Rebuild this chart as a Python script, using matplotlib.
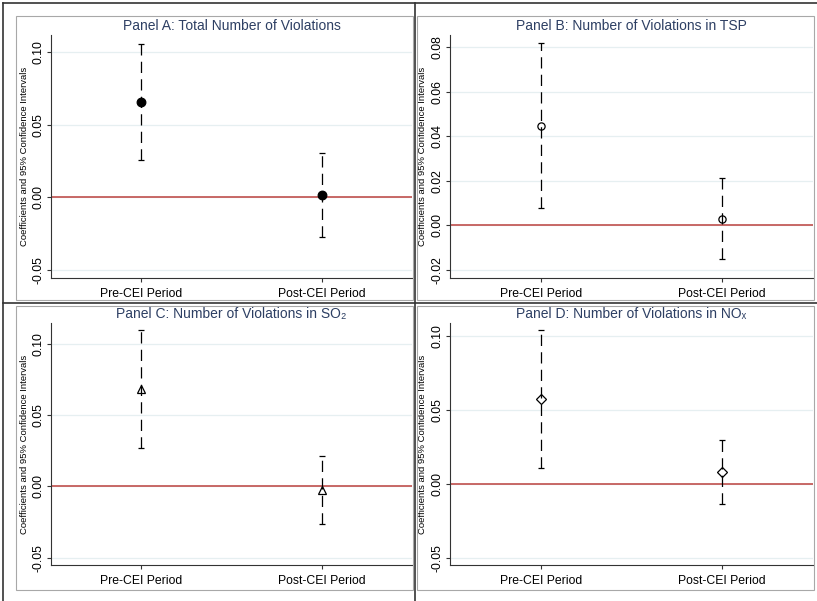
import matplotlib
matplotlib.use("Agg")
import matplotlib.pyplot as plt
from matplotlib.lines import Line2D
from matplotlib.patches import Rectangle
import numpy as np

plt.rcParams['font.family'] = ['Liberation Sans', 'DejaVu Sans']

# estimates
periods = ["Pre-CEI Period", "Post-CEI Period"]

coef_a = [0.066, 0.002]
lo_a = [0.026, -0.027]
hi_a = [0.106, 0.031]

coef_b = [0.0446, 0.003]
lo_b = [0.0078, -0.015]
hi_b = [0.0816, 0.0212]

coef_c = [0.0685, -0.0024]
lo_c = [0.0269, -0.0263]
hi_c = [0.1096, 0.021]

coef_d = [0.0572, 0.0079]
lo_d = [0.0106, -0.0137]
hi_d = [0.1037, 0.0297]

titles = ["Panel A: Total Number of Violations",
          "Panel B: Number of Violations in TSP",
          "Panel C: Number of Violations in SO\u2082",
          "Panel D: Number of Violations in NO\u2093"]

W, H = 817, 601
fig = plt.figure(figsize=(W / 100, H / 100), dpi=100)
fig.patch.set_facecolor('white')


def px_rect(l, t, r, b):
    return [l / W, 1 - b / H, (r - l) / W, (b - t) / H]


def fig_line(x0, y0, x1, y1, color='#333333', lw=1.2):
    fig.add_artist(Line2D([x0 / W, x1 / W], [1 - y0 / H, 1 - y1 / H],
                          transform=fig.transFigure, color=color, lw=lw))


# grey panel boxes
for (l, t, r, b) in [(16, 16, 413, 300), (417, 16, 814, 300),
                     (16, 306, 413, 590), (417, 306, 814, 590)]:
    fig.add_artist(Rectangle((l / W, 1 - b / H), (r - l) / W, (b - t) / H,
                             transform=fig.transFigure, fill=False,
                             edgecolor='#a8a8a8', lw=0.8))

# dark table lines
fig_line(3, 3, 817, 3)
fig_line(3, 3, 3, 601)
fig_line(3, 303, 817, 303)
fig_line(415, 3, 415, 601)

panels = [
    (coef_a, lo_a, hi_a, 'o', 'black', 6.2, (-0.0555, 0.112), [-0.05, 0.0, 0.05, 0.10], (51, 35, 412, 278)),
    (coef_b, lo_b, hi_b, 'o', 'none', 5.2, (-0.0236, 0.0854), [-0.02, 0.0, 0.02, 0.04, 0.06, 0.08], (450, 35, 813, 278)),
    (coef_c, lo_c, hi_c, '^', 'none', 5.5, (-0.0552, 0.1145), [-0.05, 0.0, 0.05, 0.10], (51, 323, 412, 565)),
    (coef_d, lo_d, hi_d, 'D', 'none', 5.5, (-0.055, 0.1086), [-0.05, 0.0, 0.05, 0.10], (450, 323, 813, 565)),
]

x = np.array([1, 2])
for i, (coef, lo, hi, mk, mfc, ms, ylim, yticks, rect) in enumerate(panels):
    ax = fig.add_axes(px_rect(*rect))
    coef = np.array(coef)
    lo = np.array(lo)
    hi = np.array(hi)
    for yt in yticks:
        ax.axhline(yt, color='#e6eff1', lw=0.9, zorder=0)
    ax.axhline(0, color='#c0504d', lw=1.2, zorder=1)
    eb = ax.errorbar(x, coef, yerr=[coef - lo, hi - coef], fmt='none',
                     ecolor='black', elinewidth=0.9, capsize=2.5,
                     capthick=0.9, zorder=2)
    eb[2][0].set_linestyle((0, (9, 5)))
    ax.plot(x, coef, linestyle='none', marker=mk, ms=ms, mfc=mfc,
            mec='black', mew=0.9, zorder=3)

    ax.set_xlim(0.5, 2.5)
    ax.set_ylim(*ylim)
    ax.set_xticks(x, periods, fontsize=8.8)
    ax.set_yticks(yticks, ["%.2f" % v for v in yticks], fontsize=8.8,
                  rotation=90, va='center')
    ax.tick_params(axis='both', length=3, width=0.8, color='#333333')
    ax.tick_params(axis='x', pad=4)
    ax.tick_params(axis='y', pad=2)
    for s in ['top', 'right']:
        ax.spines[s].set_visible(False)
    for s in ['left', 'bottom']:
        ax.spines[s].set_color('#333333')
        ax.spines[s].set_linewidth(0.8)
    ax.set_ylabel("Coefficients and 95% Confidence Intervals", fontsize=6.8)
    ax.yaxis.set_label_coords(-0.062, 0.5)
    ax.set_facecolor('none')

    l, t, r, b = rect
    fig.text((l + r) / 2 / W, 1 - (t - 9) / H, titles[i], ha='center',
             va='center', fontsize=10, color='#2d3f63')

fig.savefig("out.png", dpi=100)
